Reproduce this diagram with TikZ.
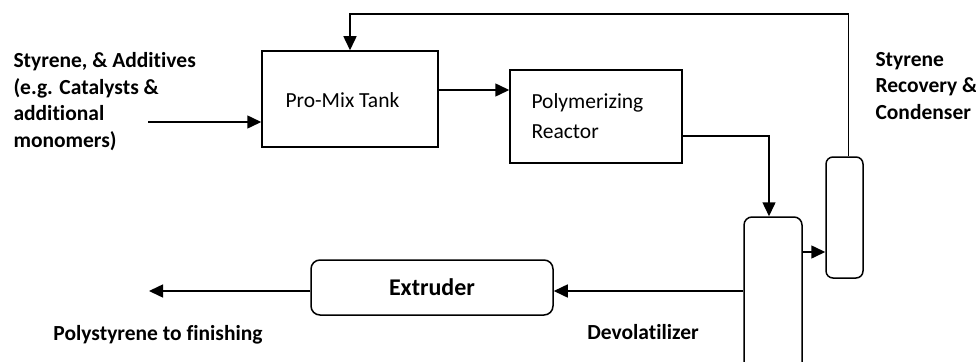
\documentclass[tikz,border=0pt]{standalone}
\usepackage{fontspec}
\setmainfont{Carlito}[Ligatures=NoCommon]
\usetikzlibrary{arrows.meta,positioning,calc}

\begin{document}
\begin{tikzpicture}[x=1pt, y=-1pt,
    every node/.style={font=\fontsize{21.5}{26.5}\selectfont},
    unit/.style={draw, line width=1.5pt, inner sep=0pt},
    lbl/.style={font=\fontsize{21.5}{26.5}\selectfont\bfseries, align=left},
    flow/.style={line width=1.5pt, -{Triangle[length=14pt, width=13pt]}}]
        \clip (0,0) rectangle (976,361);
        \node[unit, minimum width=176pt, minimum height=96pt] (promix) at (350,99) {};
        \node[anchor=west] (promixtxt) at (282,100) {Pro-Mix Tank};
        \node[unit, minimum width=172pt, minimum height=93pt] (reactor) at (596,116.5) {};
        \node[anchor=west, align=left, font=\fontsize{21.5}{30}\selectfont] (reactortxt) at (528,116) {Polymerizing\\Reactor};
        \node[unit, rounded corners=8pt, minimum width=58pt, minimum height=166pt] (devol) at (773,300) {};
        \node[unit, rounded corners=7pt, minimum width=37pt, minimum height=121pt] (cond) at (844.5,217.5) {};
        \node[unit, rounded corners=9pt, minimum width=242pt, minimum height=55pt,
              font=\fontsize{24}{28}\selectfont\bfseries] (extruder) at (432,287.5) {Extruder};
        \node[lbl, anchor=west] (feed) at (10,101.5) {Styrene, \& Additives\\(e.g. Catalysts \&\\additional\\monomers)};
        \node[lbl, anchor=west] (condlbl) at (872,86) {Styrene\\Recovery \&\\Condenser};
        \node[lbl] (devollbl) at (643,332) {Devolatilizer};
        \node[lbl] (product) at (158,335) {Polystyrene to finishing};
        \coordinate (feedin) at (148,122);
        \coordinate (out) at (149,291);
        \draw[flow] (feedin) -- (feedin -| promix.west);
        \draw[flow] ([yshift=9pt]promix.east) -- ([yshift=9pt]promix.east -| reactor.west);
        \draw[flow] ([yshift=-19.5pt]reactor.east) -| ([xshift=-4pt]devol.north);
        \draw[flow] ([yshift=48pt]devol.east) -- ([yshift=48pt]devol.east -| cond.west);
        \draw[flow] ([xshift=4pt]cond.north) -- ++(0,-142) -| (promix.north);
        \draw[flow] ([yshift=9pt]devol.west) -- ([yshift=9pt]devol.west -| extruder.east);
        \draw[flow] ([yshift=-3.5pt]extruder.west) -- (out);
    \end{tikzpicture}
\end{document}
